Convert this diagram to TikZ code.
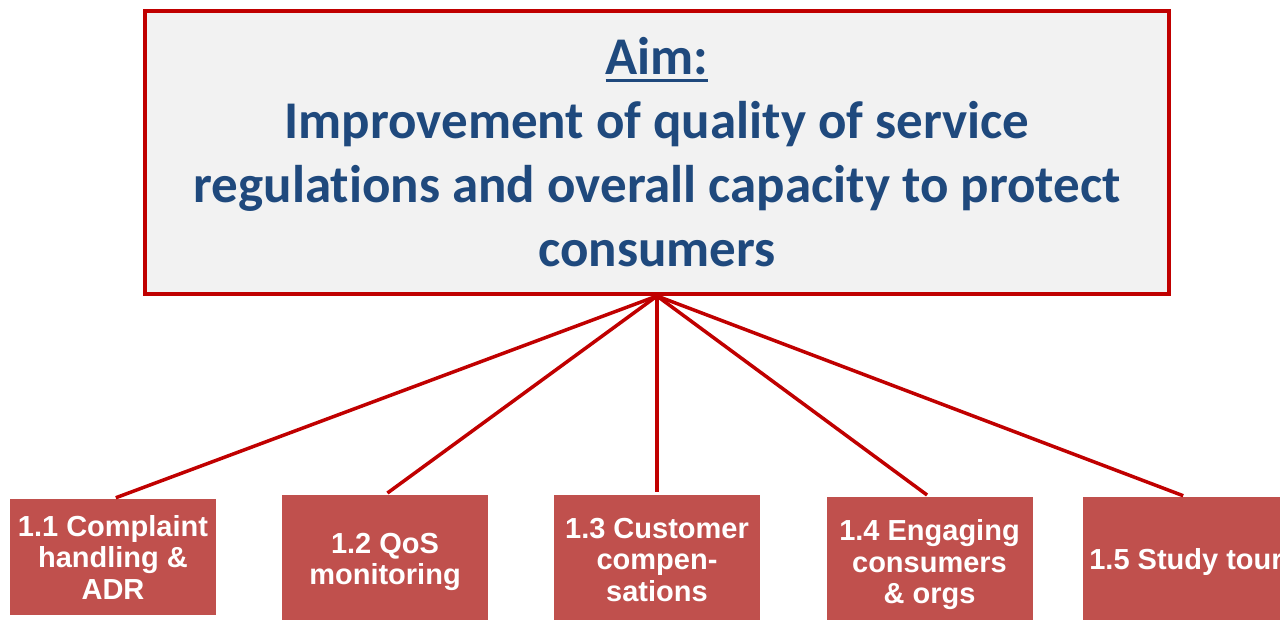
\documentclass[tikz,border=0pt]{standalone}
\usepackage{fontspec}
\setmainfont{Carlito}[Ligatures={NoCommon}]
\newfontfamily\arialf{Liberation Sans}
\definecolor{linered}{HTML}{C00000}
\definecolor{boxred}{HTML}{C0504D}
\definecolor{aimfill}{HTML}{F2F2F2}
\definecolor{aimblue}{HTML}{1F497D}
\newcommand\myul[1]{\setbox0\hbox{#1}\rlap{\rule[-7pt]{\wd0}{3pt}}\box0}
\begin{document}
\begin{tikzpicture}[x=1pt,y=-1pt,
  aimbox/.style={draw=linered, line width=4pt, fill=aimfill, minimum width=1024pt, minimum height=283pt, inner sep=0pt},
  aimtext/.style={text=aimblue, font=\fontsize{53}{64}\selectfont\bfseries, align=center, inner sep=0pt},
  subbox/.style={fill=boxred, minimum width=206pt, inner sep=0pt, text=white, align=center, font=\arialf\fontsize{29}{31.5}\selectfont\bfseries},
  conn/.style={draw=linered, line width=3.5pt, shorten >=3pt}
]
\useasboundingbox (0,0) rectangle (1280,620);
\clip (0,0) rectangle (1280,620);
\node[aimbox] (aim) at (657,152.5) {};
\node[aimtext, anchor=base] (aimt) at (657,267) {\myul{Aim:}\\Improvement of quality of service\\regulations and overall capacity to protect\\consumers};
\node[subbox, minimum height=116pt] (b1) at (113,557) {1.1 Complaint\\handling \&\\ADR};
\node[subbox, minimum height=134pt] (b2) at (385,562) {1.2 QoS\\monitoring};
\node[subbox, minimum height=130pt] (b3) at (657,560) {1.3 Customer\\compen-\\sations};
\node[subbox, minimum height=136pt] (b4) at (929.5,565) {1.4 Engaging\\consumers\\\& orgs};
\node[subbox, minimum height=130pt] (b5) at (1186,562) {1.5 Study tour};
\foreach \b in {b1,b2,b3,b4,b5} \draw[conn] (aim.south) -- (\b.north);
\end{tikzpicture}
\end{document}
